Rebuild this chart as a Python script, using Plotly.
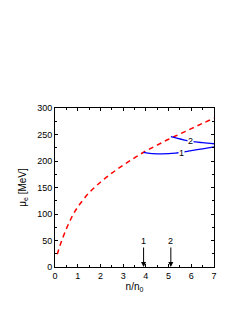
import plotly.graph_objects as go

# red dashed curve (beta-equilibrium)
n_red = [0.1, 0.2, 0.3, 0.5, 0.75, 1.0, 1.5, 2.0, 2.5, 3.0, 3.5, 4.0, 4.5, 5.0, 5.5, 6.0, 6.5, 7.0]
mu_red = [24, 38, 50, 72, 95, 113, 140, 160, 177, 192, 206, 219, 230, 241, 251, 261, 271, 281]

# blue curve 1
n_b1 = [3.9, 4.1, 4.3, 4.5, 4.7, 5.0, 5.3, 5.6, 6.0, 6.5, 7.0]
mu_b1 = [216.5, 214.8, 214.0, 213.6, 213.5, 213.8, 214.8, 216.5, 219.5, 223.0, 226.5]

# blue curve 2
n_b2 = [5.1, 5.4, 5.7, 6.0, 6.5, 7.0]
mu_b2 = [246, 242.5, 239.5, 237, 234.5, 232.5]

# arrows
arrow_n = [3.9, 5.1]
arrow_labels = ["1", "2"]

curve_labels = [("1", 5.55, 216), ("2", 5.95, 237)]

fig = go.Figure()
fig.add_trace(go.Scatter(x=n_red, y=mu_red, mode="lines", line=dict(color="red", width=1.5, dash="5px,4px"), line_shape="spline"))
fig.add_trace(go.Scatter(x=n_b1, y=mu_b1, mode="lines", line=dict(color="blue", width=1.3), line_shape="spline"))
fig.add_trace(go.Scatter(x=n_b2, y=mu_b2, mode="lines", line=dict(color="blue", width=1.3), line_shape="spline"))

ann = []
for xn, lab in zip(arrow_n, arrow_labels):
    ann.append(dict(x=xn, y=0, ax=xn, ay=49, axref="x", ayref="y", xref="x", yref="y",
                    text=lab, showarrow=True, arrowhead=2, arrowsize=1, arrowwidth=1,
                    arrowcolor="black", font=dict(size=9, color="black")))
for lab, xx, yy in curve_labels:
    ann.append(dict(x=xx, y=yy, text=lab, showarrow=False, xref="x", yref="y",
                    font=dict(size=9, color="black"), bgcolor="white", borderpad=0))

axis_common = dict(showgrid=False, zeroline=False, showline=True, linecolor="black", linewidth=1,
                   mirror="allticks", ticks="inside", ticklen=3, tickcolor="black",
                   tickfont=dict(size=9, color="black", family="Liberation Sans, Arial"))

fig.update_layout(
    width=245, height=317,
    margin=dict(l=47, r=39, t=100, b=58),
    paper_bgcolor="white", plot_bgcolor="white",
    showlegend=False,
    annotations=ann,
    font=dict(family="Liberation Sans, Arial", size=9, color="black"),
    xaxis=dict(range=[0, 7], dtick=1, tick0=0,
               minor=dict(dtick=0.5, ticks="inside", ticklen=2, tickcolor="black"),
               title=dict(text="n/n<sub>0</sub>", font=dict(size=10), standoff=3),
               **axis_common),
    yaxis=dict(range=[0, 300], dtick=50, tick0=0,
               minor=dict(dtick=25, ticks="inside", ticklen=2, tickcolor="black"),
               title=dict(text="μ<sub>e</sub> [MeV]", font=dict(size=10), standoff=8),
               **axis_common),
)

fig.write_html("out.html")
